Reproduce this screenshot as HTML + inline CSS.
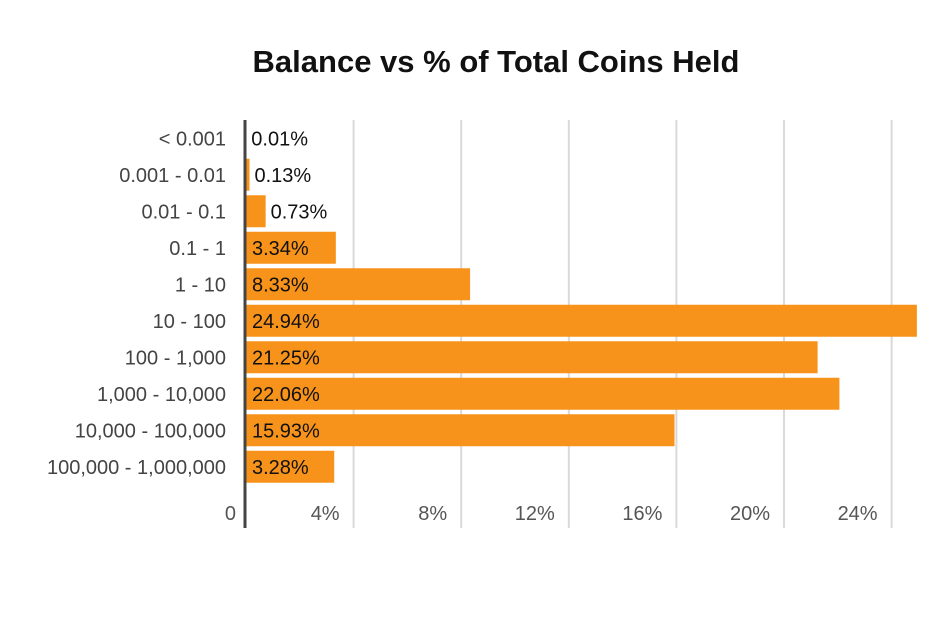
<!DOCTYPE html>
<html><head><meta charset="utf-8"><style>
body{margin:0;background:#fff;width:947px;height:612px;overflow:hidden;font-family:"Liberation Sans",sans-serif;}
</style></head><body>
<svg id="chart" width="947" height="612" xmlns="http://www.w3.org/2000/svg">
<text x="496" y="72" text-anchor="middle" font-size="31" font-weight="bold" fill="#111">Balance vs % of Total Coins Held</text>
<g id="grid"></g><g id="bars"></g><g id="labels"></g>
</svg>
<script>
const categories=["< 0.001","0.001 - 0.01","0.01 - 0.1","0.1 - 1","1 - 10","10 - 100","100 - 1,000","1,000 - 10,000","10,000 - 100,000","100,000 - 1,000,000"];
const values=[0.01,0.13,0.73,3.34,8.33,24.94,21.25,22.06,15.93,3.28];
const ticks=[0,4,8,12,16,20,24];
const NS="http://www.w3.org/2000/svg";
const x0=246,pxPer=26.9,plotTop=120,plotBottom=528,rowStart=120,rowH=36.5,barH=32;
const xs=v=>x0+v*pxPer;
const ys=i=>rowStart+i*rowH;
function mk(t,a,p){const e=document.createElementNS(NS,t);for(const k in a)e.setAttribute(k,a[k]);p.appendChild(e);return e;}
const grid=document.getElementById('grid'),bars=document.getElementById('bars'),labels=document.getElementById('labels');
ticks.forEach(t=>{
 if(t>0){const l=mk('line',{x1:xs(t),x2:xs(t),y1:plotTop,y2:plotBottom,stroke:'#d9d9d9','stroke-width':2},grid);
 
 }
 const tx=mk('text',{x:t===0?xs(t)-10:xs(t)-14,y:520,'text-anchor':'end','font-size':20,fill:'#555'},labels);
 tx.textContent=t===0?'0':t+'%';
 
 
});
categories.forEach((c,i)=>{
 const y=ys(i)+(rowH-barH)/2;
 const r=mk('rect',{x:x0,y:y,width:Math.max(0,xs(values[i])-x0),height:barH,fill:'#f7931a'},bars);
 
 
 const cl=mk('text',{x:226,y:y+barH/2+7,'text-anchor':'end','font-size':20,fill:'#444'},labels);
 cl.textContent=c;
 
 
 const w=xs(values[i])-x0;
 const vl=mk('text',{x:w>40?x0+6:xs(values[i])+5,y:y+barH/2+7,'font-size':20,fill:'#111'},labels);
 vl.textContent=values[i].toFixed(2)+'%';
 
 
});
const ax=mk('line',{x1:245,x2:245,y1:plotTop,y2:plotBottom,stroke:'#444','stroke-width':3},labels);


</script>
</body></html>
